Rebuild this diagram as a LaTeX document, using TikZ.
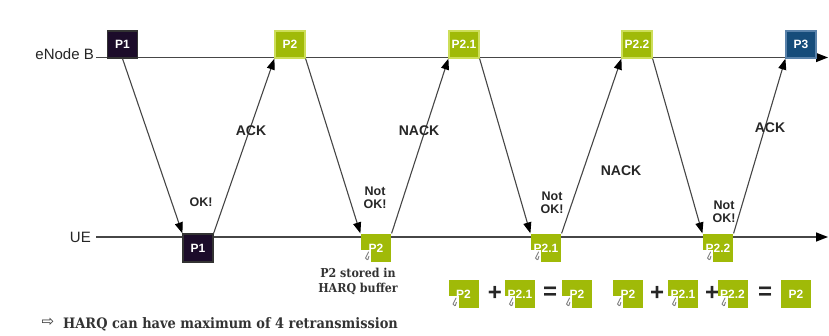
\documentclass[tikz,border=0pt]{standalone}
\usepackage{fontspec}
\setmainfont{Liberation Sans}
\newfontfamily\slabfont{DejaVu Serif Condensed}
\newfontfamily\symfont{DejaVu Sans}
\usetikzlibrary{arrows.meta,calc}

\definecolor{limefill}{RGB}{160,186,8}
\definecolor{limeedge}{RGB}{205,222,90}
\definecolor{darkbox}{RGB}{28,12,42}
\definecolor{bluebox}{RGB}{22,76,122}
\definecolor{bluedge}{RGB}{90,130,170}
\definecolor{wire}{RGB}{70,70,70}

\tikzset{
  pkt/.style={rectangle, minimum width=30pt, minimum height=27pt, inner sep=0pt,
    text=white, font=\fontsize{12}{13}\selectfont\bfseries, line width=1.2pt},
  greenpkt/.style={pkt, fill=limefill, draw=limeedge},
  darkpkt/.style={pkt, fill=darkbox, draw=black!80},
  bluepkt/.style={pkt, fill=bluebox, draw=bluedge},
  bufpkt/.style={pkt, minimum height=28pt, fill=limefill,
    path picture={
      \fill[white] (path picture bounding box.south west) rectangle ++(10pt,12pt);
      \draw[gray, line width=0.9pt, line cap=round]
        ($(path picture bounding box.south west)+(7.5pt,10pt)$) -- ++(-3pt,-6pt)
        arc[start angle=180, end angle=300, radius=1.6pt] -- ++(1pt,3pt);
    }},
  msg/.style={draw=wire, line width=1.1pt, -{Triangle[length=11pt,width=8pt,color=black]}},
  axisline/.style={draw=wire, line width=1.4pt, -{Triangle[length=12pt,width=9pt,color=black]}},
  sidelbl/.style={font=\fontsize{15}{16}\selectfont, text=black!85, inner sep=0pt},
  acklbl/.style={font=\fontsize{14}{15}\selectfont\bfseries, text=black!85, inner sep=0pt},
  oklbl/.style={font=\fontsize{12.5}{13}\selectfont\bfseries, text=black!85, inner sep=0pt, align=center},
  oplbl/.style={font=\fontsize{24}{24}\selectfont\bfseries, text=black!85, inner sep=0pt},
  notelbl/.style={font=\slabfont\bfseries\fontsize{12.3}{15}\selectfont, text=black!80, inner sep=0pt, align=center},
}

\begin{document}
\begin{tikzpicture}[x=1pt, y=-1pt]
  \fill[white] (0,0) rectangle (829,336);
  \useasboundingbox (0,0) rectangle (829,336);

  % time lines
  \node[sidelbl, anchor=east] (enbLabel) at (94,54) {eNode B};
  \node[sidelbl, anchor=east] (ueLabel) at (91,237) {UE};
  \coordinate (enbStart) at (96,57.5);
  \coordinate (enbEnd) at (828,57.5);
  \coordinate (ueStart) at (96,237);
  \coordinate (ueEnd) at (828,237);
  \draw[axisline] (enbStart) -- (enbEnd);
  \draw[axisline] (ueStart) -- (ueEnd);

  % packets sent by the eNode B
  \node[darkpkt]  (eP1)  at (122.5,44.5) {P1};
  \node[greenpkt] (eP2)  at (290,44.5) {P2};
  \node[greenpkt] (eP21) at (464,44.5) {P2.1};
  \node[greenpkt] (eP22) at (637,44.5) {P2.2};
  \node[bluepkt]  (eP3)  at (801,44.5) {P3};

  % packets received by the UE
  \node[darkpkt, minimum height=28pt] (uP1) at (198,248) {P1};
  \node[bufpkt] (uP2)  at (376,248) {P2};
  \node[bufpkt] (uP21) at (546,248) {P2.1};
  \node[bufpkt] (uP22) at (718,248) {P2.2};

  % transmissions and feedback
  \draw[msg] (eP1.south) -- (uP1.north west);
  \draw[msg] (uP1.north east) -- (eP2.south west);
  \draw[msg] (eP2.south east) -- (uP2.north west);
  \draw[msg] (uP2.north east) -- (eP21.south west);
  \draw[msg] (eP21.south east) -- (uP21.north west);
  \draw[msg] (uP21.north east) -- (eP22.south west);
  \draw[msg] (eP22.south east) -- (uP22.north west);
  \draw[msg] (uP22.north east) -- (eP3.south west);

  % feedback labels
  \node[acklbl] (ackA)  at (251,131) {ACK};
  \node[acklbl] (nackA) at (419,131) {NACK};
  \node[acklbl] (nackB) at (621,171) {NACK};
  \node[acklbl] (ackB)  at (770,128) {ACK};

  \node[oklbl] (okA) at (201,202) {OK!};
  \node[oklbl] (okB) at (375,198) {Not\\OK!};
  \node[oklbl] (okC) at (552,203) {Not\\OK!};
  \node[oklbl] (okD) at (724,212) {Not\\OK!};

  \node[notelbl] (storeNote) at (358,281) {P2 stored in\\HARQ buffer};

  % soft combining
  \node[bufpkt] (cA1) at (463.5,294) {P2};
  \node[oplbl]  (plA1) at (495,293) {+};
  \node[bufpkt] (cA2) at (520,294) {P2.1};
  \node[oplbl]  (eqA)  at (550,293) {=};
  \node[bufpkt] (cA3) at (577,294) {P2};

  \node[bufpkt] (cB1) at (628,294) {P2};
  \node[oplbl]  (plB1) at (657,293) {+};
  \node[bufpkt] (cB2) at (683,294) {P2.1};
  \node[oplbl]  (plB2) at (712,293) {+};
  \node[bufpkt] (cB3) at (732.5,294) {P2.2};
  \node[oplbl]  (eqB)  at (765,293) {=};
  \node[greenpkt, minimum height=28pt, draw=none] (cB4) at (796,294) {P2};

  % note
  \node[font=\symfont\fontsize{15}{15}\selectfont, text=black!80, inner sep=0pt] (noteArrow) at (48,322) {⇨};
  \node[font=\slabfont\bfseries\fontsize{14.4}{16}\selectfont, text=black!80, inner sep=0pt, anchor=base west]
    (noteText) at (63,328) {HARQ can have maximum of 4 retransmission};
\end{tikzpicture}
\end{document}
